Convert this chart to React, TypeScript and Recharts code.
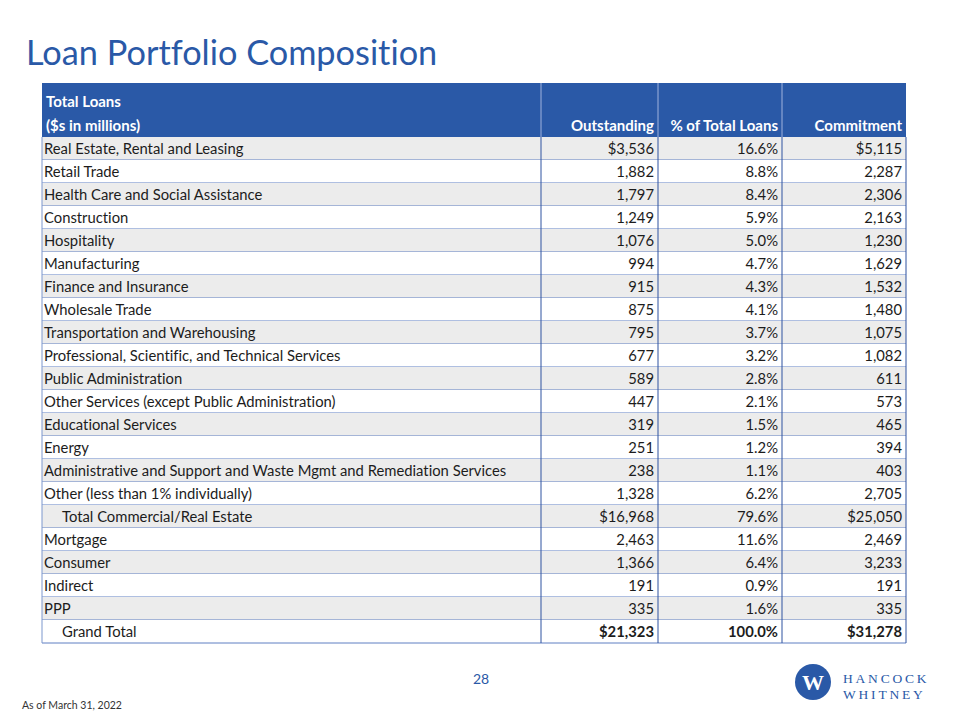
import { BarChart, Bar, XAxis, YAxis } from "recharts";

// Loan portfolio table ($s in millions), as of March 31, 2022
const categories = [
  "Real Estate, Rental and Leasing",
  "Retail Trade",
  "Health Care and Social Assistance",
  "Construction",
  "Hospitality",
  "Manufacturing",
  "Finance and Insurance",
  "Wholesale Trade",
  "Transportation and Warehousing",
  "Professional, Scientific, and Technical Services",
  "Public Administration",
  "Other Services (except Public Administration)",
  "Educational Services",
  "Energy",
  "Administrative and Support and Waste Mgmt and Remediation Services",
  "Other (less than 1% individually)",
  "Total Commercial/Real Estate",
  "Mortgage",
  "Consumer",
  "Indirect",
  "PPP",
  "Grand Total",
];

const outstanding = [3536, 1882, 1797, 1249, 1076, 994, 915, 875, 795, 677, 589, 447, 319, 251, 238, 1328, 16968, 2463, 1366, 191, 335, 21323];
const pctOfTotal = [16.6, 8.8, 8.4, 5.9, 5.0, 4.7, 4.3, 4.1, 3.7, 3.2, 2.8, 2.1, 1.5, 1.2, 1.1, 6.2, 79.6, 11.6, 6.4, 0.9, 1.6, 100.0];
const commitment = [5115, 2287, 2306, 2163, 1230, 1629, 1532, 1480, 1075, 1082, 611, 573, 465, 394, 403, 2705, 25050, 2469, 3233, 191, 335, 31278];

const dollarRows = ["Real Estate, Rental and Leasing", "Total Commercial/Real Estate", "Grand Total"];
const indentRows = ["Total Commercial/Real Estate", "Grand Total"];
const boldRows = ["Grand Total"]; // values bold, label stays regular

const columnHeaders = ["Outstanding", "% of Total Loans", "Commitment"];

const data = categories.map((name, i) => ({
  name,
  outstanding: outstanding[i],
  pct: pctOfTotal[i],
  commitment: commitment[i],
}));

const BLUE = "#2a59a7";
const FONT = "Lato, 'Open Sans', sans-serif";
const SERIF = "'Liberation Serif', 'DejaVu Serif', serif";
const LEFT = 42;
const RIGHT = 906;
const COL = [541, 658, 782];

const fmt = (v: number, dollar: boolean) => (dollar ? "$" : "") + v.toLocaleString("en-US");

// each table row is drawn as the "bar" of its category band
function RowShape(props: any) {
  const { y, height, index } = props;
  const name = categories[index];
  const mid = y + height / 2;
  const dollar = dollarRows.includes(name);
  const base = {
    fontFamily: FONT,
    fontSize: 14.8,
    fill: "#1c1c1c",
    fontVariantLigatures: "none" as const,
  };
  const valueStyle = { ...base, fontWeight: boldRows.includes(name) ? 700 : 400 };
  return (
    <g>
      <rect x={LEFT} y={y} width={RIGHT - LEFT} height={height} fill={index % 2 === 0 ? "#ececec" : "#ffffff"} />
      <line x1={LEFT} x2={RIGHT} y1={y + height} y2={y + height} stroke="#5f7fc2" strokeWidth={1} />
      <line x1={LEFT} x2={LEFT} y1={y} y2={y + height} stroke="#7d97cd" strokeWidth={1} />
      {COL.concat([RIGHT]).map((cx) => (
        <line key={cx} x1={cx} x2={cx} y1={y} y2={y + height} stroke="#2f52a0" strokeWidth={1} />
      ))}
      <text x={indentRows.includes(name) ? 62 : 44} y={mid + 5} style={base}>
        {name}
      </text>
      <text x={COL[1] - 4} y={mid + 5} textAnchor="end" style={valueStyle}>
        {fmt(outstanding[index], dollar)}
      </text>
      <text x={COL[2] - 4} y={mid + 5} textAnchor="end" style={valueStyle}>
        {pctOfTotal[index].toFixed(1) + "%"}
      </text>
      <text x={RIGHT - 4} y={mid + 5} textAnchor="end" style={valueStyle}>
        {fmt(commitment[index], dollar)}
      </text>
    </g>
  );
}

export default function App() {
  const headStyle = { fontFamily: FONT, fontSize: 15, fontWeight: 700, fill: "#fff" };
  return (
    <div style={{ position: "absolute", left: 0, top: 0, width: 960, height: 720, background: "#fff" }}>
      <BarChart
        width={960}
        height={720}
        data={data}
        layout="vertical"
        barCategoryGap={0}
        margin={{ top: 137, right: 960 - RIGHT, bottom: 77, left: LEFT }}
      >
        <XAxis type="number" hide />
        <YAxis type="category" dataKey="name" hide />
        <Bar dataKey="outstanding" isAnimationActive={false} shape={<RowShape />} />
      </BarChart>
      <svg width={960} height={720} style={{ position: "absolute", left: 0, top: 0, pointerEvents: "none" }}>
        <text x={26} y={65} style={{ fontFamily: FONT, fontSize: 34.3, fill: BLUE, fontVariantLigatures: "none" }}>
          Loan Portfolio Composition
        </text>
        <rect x={LEFT} y={83} width={RIGHT - LEFT} height={54} fill={BLUE} />
        {COL.map((cx) => (
          <line key={cx} x1={cx} x2={cx} y1={83} y2={137} stroke="#9fb3dd" strokeWidth={1} />
        ))}
        <text x={46} y={107} style={headStyle}>
          Total Loans
        </text>
        <text x={46} y={131} style={headStyle}>
          ($s in millions)
        </text>
        {columnHeaders.map((h, k) => (
          <text key={h} x={(k < 2 ? COL[k + 1] : RIGHT) - 4} y={131} textAnchor="end" style={headStyle}>
            {h}
          </text>
        ))}
        <text x={481} y={684} textAnchor="middle" style={{ fontFamily: FONT, fontSize: 14, fill: BLUE }}>
          28
        </text>
        <text x={22} y={709} style={{ fontFamily: FONT, fontSize: 10.5, fill: "#333" }}>
          As of March 31, 2022
        </text>
        <circle cx={813} cy={682} r={18} fill={BLUE} />
        <text x={813} y={690} textAnchor="middle" style={{ fontFamily: SERIF, fontSize: 22, fontWeight: 700, fill: "#fff" }}>
          W
        </text>
        <text x={843} y={683} style={{ fontFamily: SERIF, fontSize: 13.5, letterSpacing: 2.8, fill: BLUE }}>
          HANCOCK
        </text>
        <text x={843} y={699} style={{ fontFamily: SERIF, fontSize: 13.5, letterSpacing: 2.8, fill: BLUE }}>
          WHITNEY
        </text>
      </svg>
    </div>
  );
}
